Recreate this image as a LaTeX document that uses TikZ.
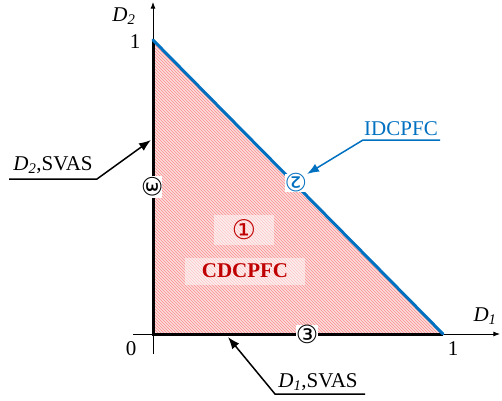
\documentclass[tikz,border=0pt]{standalone}
\usepackage{fontspec}
\setmainfont{Liberation Serif}
\newfontfamily\circfont{DejaVu Sans}
\usepackage{tikz}
\usetikzlibrary{arrows.meta,patterns}
\definecolor{lineblue}{RGB}{0, 112, 192}
\definecolor{textred}{RGB}{192, 0, 0}
\definecolor{areapink}{RGB}{250, 222, 222}

\begin{document}
\begin{tikzpicture}[x=1pt, y=1pt, >=Latex, font=\fontsize{21}{23}\selectfont,
    lbl/.style={inner sep=1pt},
    circ/.style={font=\circfont\fontsize{25}{26}\selectfont, inner sep=0pt},
    callout/.style={line width=1.5pt, -{Latex[length=12pt, width=9pt]}}]
      \useasboundingbox (0,0) rectangle (502,400);
      % region
      \coordinate (o) at (153,66);
      \coordinate (a) at (443,66);
      \coordinate (b) at (153,360);
      \fill[areapink] (o) -- (a) -- (b) -- cycle;
      \fill[pattern=north west lines, pattern color=red!45] (o) -- (a) -- (b) -- cycle;
      % axes
      \coordinate (xs) at (133,66);
      \coordinate (xe) at (500,66);
      \coordinate (ys) at (153,46);
      \coordinate (ye) at (153,398);
      \draw[->, line width=0.8pt] (xs) -- (xe);
      \draw[->, line width=0.8pt] (ys) -- (ye);
      \node[lbl] (d1) at (485,84) {\itshape D\textsubscript{1}};
      \node[lbl] (d2) at (124,384) {\itshape D\textsubscript{2}};
      \node[lbl] (one2) at (135,358) {1};
      \node[lbl] (zero) at (131,51) {0};
      \node[lbl] (one1) at (453,51) {1};
      % boundaries
      \draw[line width=3pt] (b) -- (o) -- (a);
      \draw[lineblue, line width=3pt, line cap=round] (b) -- (a);
      % marks
      \node[circ, fill=white, rotate=-90] (m3y) at (153,213) {③};
      \node[circ, fill=white] (m3x) at (307,66) {③};
      \node[circ, fill=white, rotate=180, text=lineblue] (m2) at (296,217) {②};
      \node[fill=white, fill opacity=0.5, text opacity=1, text=textred, minimum width=60pt, minimum height=30pt,
            font=\circfont\fontsize{27}{28}\selectfont, inner sep=0pt] (m1) at (244,170) {①};
      \node[fill=white, fill opacity=0.5, text opacity=1, text=textred, minimum width=120pt, minimum height=27pt,
            font=\fontsize{21}{23}\selectfont\bfseries] (cd) at (245,129) {CDCPFC};
      % callouts
      \node[lbl, anchor=base] (svas2) at (53,230) {{\itshape D\textsubscript{2}},SVAS};
      \coordinate (u2a) at (9,221);
      \coordinate (u2b) at (97,221);
      \coordinate (t2) at (151,260);
      \draw[callout] (u2a) -- (u2b) -- (t2);
      \node[lbl, anchor=base, text=lineblue] (id) at (401,265) {IDCPFC};
      \coordinate (uia) at (440,260);
      \coordinate (uib) at (363,260);
      \coordinate (ti) at (307,226);
      \draw[callout, lineblue] (uia) -- (uib) -- (ti);
      \node[lbl, anchor=base] (svas1) at (318,13) {{\itshape D\textsubscript{1}},SVAS};
      \coordinate (u1a) at (365,6);
      \coordinate (u1b) at (275,6);
      \coordinate (t1) at (228,63);
      \draw[callout] (u1a) -- (u1b) -- (t1);
    \end{tikzpicture}
\end{document}
